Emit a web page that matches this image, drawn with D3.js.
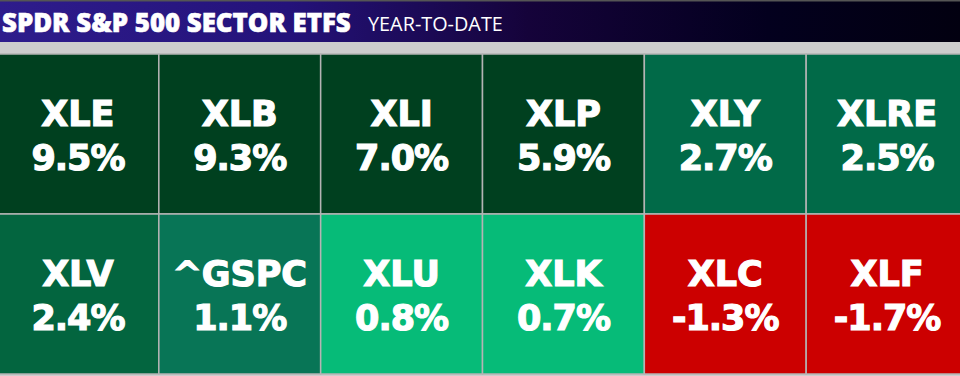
<!DOCTYPE html>
<html>
<head>
<meta charset="utf-8">
<script src="https://cdn.jsdelivr.net/npm/d3@7"></script>
<style>
  body { margin: 0; background: #cfcfcf; overflow: hidden; }
  svg { display: block; }
</style>
</head>
<body>
<div id="chart"></div>
<script>
/* data */
var tickers = ["XLE", "XLB", "XLI", "XLP", "XLY", "XLRE",
               "XLV", "^GSPC", "XLU", "XLK", "XLC", "XLF"];
var ytd = [9.5, 9.3, 7.0, 5.9, 2.7, 2.5,
           2.4, 1.1, 0.8, 0.7, -1.3, -1.7];
var title = "SPDR S&P 500 SECTOR ETFS";
var subtitle = "YEAR-TO-DATE";

/* constants */
var width = 960, height = 376;
var cols = 6;
var gridTop = 54, rowH = 160;

var svg = d3.select("#chart").append("svg")
    .attr("width", width)
    .attr("height", height);

var defs = svg.append("defs");
var grad = defs.append("linearGradient").attr("id", "hdr")
    .attr("x1", "0%").attr("x2", "100%");
grad.append("stop").attr("offset", "0%").attr("stop-color", "#2e1c8c");
grad.append("stop").attr("offset", "30%").attr("stop-color", "#24127a");
grad.append("stop").attr("offset", "55%").attr("stop-color", "#15033a");
grad.append("stop").attr("offset", "80%").attr("stop-color", "#03001e");
grad.append("stop").attr("offset", "100%").attr("stop-color", "#020010");

/* light strip behind everything */
svg.append("rect").attr("x", 0).attr("y", 0)
    .attr("width", width).attr("height", height).attr("fill", "#cdcdcd");

/* header */
svg.append("rect").attr("x", 0).attr("y", 0)
    .attr("width", width).attr("height", 42).attr("fill", "url(#hdr)");
svg.append("rect").attr("x", 0).attr("y", 0)
    .attr("width", width).attr("height", 1.5).attr("fill", "#555");

// size a header text so its natural width hits the target
function fitText(sel, target){
    var fs = +sel.attr("font-size");
    var w = sel.node().getComputedTextLength();
    if (w > 0) sel.attr("font-size", fs * target / w);
}

var titleText = svg.append("text")
    .attr("x", 2).attr("y", 32)
    .attr("font-family", "'Open Sans', sans-serif")
    .attr("font-weight", 800)
    .attr("font-size", 28)
    .attr("fill", "#fff")
    .attr("stroke", "#fff")
    .attr("stroke-width", 0.6)
    .text(title);
fitText(titleText, 349);

var subText = svg.append("text")
    .attr("x", 368).attr("y", 31)
    .attr("font-family", "'Open Sans', sans-serif")
    .attr("font-size", 19.5)
    .attr("fill", "#fff")
    .text(subtitle);
fitText(subText, 135);

/* scales */
var x = d3.scaleBand().domain(d3.range(cols)).range([-3, 968]).padding(0);
var y = d3.scaleBand().domain([0, 1]).range([gridTop, gridTop + 2 * rowH]).padding(0);
var color = d3.scaleThreshold()
    .domain([0, 1, 2, 2.45, 5])
    .range(["#cc0000", "#06bb78", "#087556", "#03653f", "#016a48", "#00401f"]);
var pct = function(v){ return d3.format(".1f")(v).replace("\u2212", "-") + "%"; };

var cells = svg.selectAll("g.cell")
    .data(tickers.map(function(t, i){ return {t: t, v: ytd[i], i: i}; }))
    .enter()
    .append("g")
    .attr("class", "cell")
    .attr("transform", function(d){
        return "translate(" + x(d.i % cols) + "," + y(Math.floor(d.i / cols)) + ")";
    });

cells.append("rect")
    .attr("width", x.bandwidth())
    .attr("height", y.bandwidth())
    .attr("fill", function(d){ return color(d.v); })
    .attr("stroke", "#b4b4b4")
    .attr("stroke-width", 1.5);

cells.append("text")
    .attr("x", x.bandwidth() / 2)
    .attr("y", 72)
    .attr("text-anchor", "middle")
    .attr("font-family", "'DejaVu Sans', sans-serif")
    .attr("font-weight", 700)
    .attr("font-size", 35)
    .attr("fill", "#fff")
    .attr("stroke", "#fff")
    .attr("stroke-width", 1.2)
    .text(function(d){ return d.t; });

cells.append("text")
    .attr("x", x.bandwidth() / 2)
    .attr("y", 116)
    .attr("text-anchor", "middle")
    .attr("font-family", "'DejaVu Sans', sans-serif")
    .attr("font-weight", 700)
    .attr("font-size", 35)
    .attr("letter-spacing", -1)
    .attr("fill", "#fff")
    .attr("stroke", "#fff")
    .attr("stroke-width", 1.2)
    .text(function(d){ return pct(d.v); });
</script>
</body>
</html>
